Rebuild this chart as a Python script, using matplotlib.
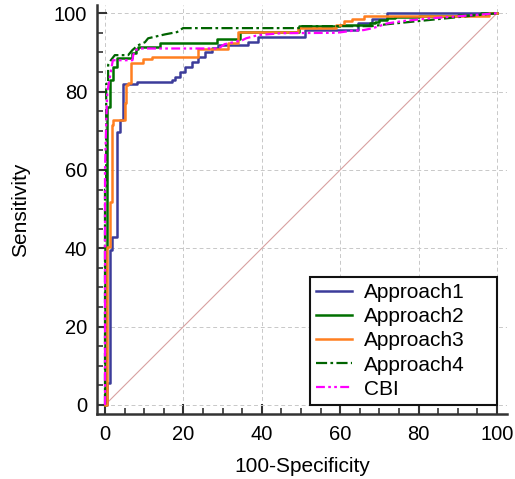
import matplotlib
matplotlib.use("Agg")
import matplotlib.pyplot as plt
from matplotlib.ticker import MultipleLocator

plt.rcParams['font.family'] = ['Liberation Sans', 'DejaVu Sans']

# ROC curve vertices (100-Specificity, Sensitivity)
a1_x = [0, 0.5, 0.5, 1.3, 1.3, 1.8, 1.8, 3.1, 3.1, 3.8, 3.8, 4.6, 4.6, 8.2, 8.2, 17.1, 17.1, 17.9, 17.9,
        19.1, 19.1, 20.4, 20.4, 22.2, 22.2, 23.7, 23.7, 25.5, 25.5, 27.3, 27.3, 28.8, 28.8, 36.5, 36.5,
        39.0, 39.0, 51, 51, 64.5, 64.5, 68, 68, 72, 72, 100]
a1_y = [0, 0, 5.6, 5.6, 39.5, 39.5, 43, 43, 69.6, 69.6, 72.7, 72.7, 81.9, 81.9, 82.4, 82.4, 82.9, 82.9, 83.7,
        83.7, 85.0, 85.0, 86.2, 86.2, 87.5, 87.5, 88.8, 88.8, 90.1, 90.1, 91.1, 91.1, 91.8, 91.8, 92.6,
        92.6, 93.9, 93.9, 95.7, 95.7, 97.4, 97.4, 98.5, 98.5, 100, 100]

a2_x = [0, 0, 0.5, 0.5, 1.3, 1.3, 2, 2, 3, 3, 7, 7, 8, 8, 8.5, 8.5, 14, 14, 28.6, 28.6, 34.4, 34.4,
        49.5, 49.5, 60, 60, 67.6, 67.6, 69, 69, 70, 70, 72, 72, 74, 74, 80, 80, 90, 90, 96, 96, 100]
a2_y = [0, 40, 40, 76, 76, 83, 83, 86.2, 86.2, 88.5, 88.5, 89.8, 89.8, 90.8, 90.8, 91.3, 91.3, 92.3, 92.3,
        93.4, 93.4, 95.2, 95.2, 96.7, 96.7, 96.9, 96.9, 97.4, 97.4, 97.7, 97.7, 98.2, 98.2, 98.7, 98.7,
        99.0, 99.0, 99.3, 99.3, 99.6, 99.6, 100, 100]

a3_x = [0, 0.5, 0.5, 1.3, 1.3, 1.8, 1.8, 2.0, 2.0, 5.1, 5.1, 5.4, 5.4, 5.9, 5.9, 6.6, 6.6, 9.7, 9.7, 12,
        12, 23.7, 23.7, 31.4, 31.4, 34.0, 34.0, 49.2, 49.2, 59, 59, 61, 61, 63, 63, 66, 66, 98, 98, 100]
a3_y = [0, 0, 40.3, 40.3, 51.8, 51.8, 71.4, 71.4, 72.7, 72.7, 77, 77, 81.6, 81.6, 82.1, 82.1, 87.2, 87.2,
        88.3, 88.3, 88.8, 88.8, 90.8, 90.8, 92.3, 92.3, 95.2, 95.2, 96.2, 96.2, 96.9, 96.9, 98.0, 98.0,
        98.5, 98.5, 99.3, 99.3, 100, 100]

a4_x = [0, 0, 0.3, 0.3, 0.8, 0.8, 1.5, 2.5, 5.9, 7.0, 8.4, 10.2, 11.0, 15.3, 18.4, 19.9, 50.3, 50.3,
        68, 72, 80, 90, 100]
a4_y = [0, 55, 55, 82, 82, 86.8, 88.0, 89.3, 89.3, 90.6, 91.8, 92.6, 93.6, 94.6, 95.2, 96.2, 96.2, 96.7,
        96.7, 97.2, 98.0, 99.0, 100]

cbi_x = [0, 0, 0.3, 0.6, 1.3, 2.0, 7.0, 7.2, 7.7, 9.0, 29, 30.5, 35, 36, 39, 45, 59, 63, 66, 68.4, 72,
         76, 83, 90, 100]
cbi_y = [0, 60, 72, 80, 84, 88, 88, 89.3, 90.6, 91, 91, 92.1, 93.1, 93.6, 94.4, 94.9, 95.0, 95.5, 95.7,
         96.2, 97.4, 98.0, 98.7, 99.2, 100]

labels = ["Approach1", "Approach2", "Approach3", "Approach4", "CBI"]
ticks = [0, 20, 40, 60, 80, 100]

fig = plt.figure(figsize=(5.15, 4.79), dpi=100)
ax = fig.add_axes([97/515, 1-414/479, (507-97)/515, (414-5)/479])

ax.plot([0, 100], [0, 100], color='#D8A0A0', lw=0.8, zorder=1)
ax.plot(a1_x, a1_y, color='#3C3C9A', lw=1.8, label=labels[0], zorder=3)
ax.plot(a2_x, a2_y, color='#007000', lw=1.8, label=labels[1], zorder=3)
ax.plot(a3_x, a3_y, color='#FF7F20', lw=1.8, label=labels[2], zorder=3)
ax.plot(a4_x, a4_y, color='#006400', lw=1.6, dashes=(5, 1.5, 1.2, 1.5), label=labels[3], zorder=4)
ax.plot(cbi_x, cbi_y, color='#FF00FF', lw=1.6, dashes=(4, 1.5, 1.2, 1.5, 1.2, 1.5), label=labels[4], zorder=4)

ax.set_xlim(-2.04, 102.55)
ax.set_ylim(-2.3, 102.1)
ax.set_xticks(ticks)
ax.set_yticks(ticks)
ax.xaxis.set_minor_locator(MultipleLocator(5))
ax.yaxis.set_minor_locator(MultipleLocator(5))
ax.tick_params(which='major', direction='in', length=7, width=1.5, color='#333333', labelsize=14.5, pad=7)
ax.tick_params(which='minor', direction='in', length=4, width=1.2, color='#333333')
ax.tick_params(axis='x', which='major', pad=8)
ax.grid(True, which='major', color='#C8C8C8', linestyle=(0, (4, 3)), lw=0.7)
ax.set_axisbelow(True)
for s in ['top', 'right']:
    ax.spines[s].set_visible(False)
for s in ['left', 'bottom']:
    ax.spines[s].set_linewidth(1.8)
    ax.spines[s].set_color('#333333')

ax.set_xlabel("100-Specificity", fontsize=15, labelpad=9)
ax.set_ylabel("Sensitivity", fontsize=15, labelpad=17)

leg = ax.legend(loc='lower left', bbox_to_anchor=(52.3, 0, 47.7, 34), bbox_transform=ax.transData,
                mode='expand', borderaxespad=0, fancybox=False, framealpha=1, edgecolor='#111111',
                fontsize=15, handlelength=1.7, handletextpad=0.6, labelspacing=0.25,
                borderpad=0.3)
leg.get_frame().set_linewidth(1.5)
leg.set_zorder(10)

fig.savefig("out.png", dpi=100)
